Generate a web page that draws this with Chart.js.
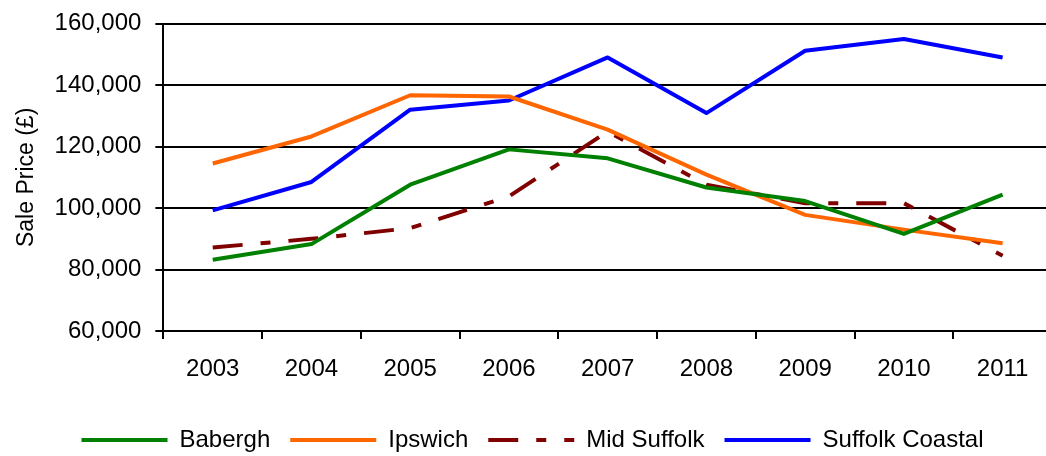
<!DOCTYPE html>
<html>
<head>
<meta charset="utf-8">
<script src="https://cdn.jsdelivr.net/npm/chart.js@4/dist/chart.umd.min.js"></script>
<style>
  body { margin: 0; background: #fff; overflow: hidden; }
</style>
</head>
<body>
<!-- plot runs a few px past the right edge, like the original export -->
<canvas id="priceChart" width="1052" height="456"></canvas>
<script>
const years = ['2003', '2004', '2005', '2006', '2007', '2008', '2009', '2010', '2011'];
const babergh = [83200, 88300, 107600, 119100, 116200, 106700, 102300, 91600, 104400];
const ipswich = [114500, 123300, 136700, 136300, 125500, 110900, 97800, 93000, 88600];
const midSuffolk = [87200, 90000, 93500, 103800, 124900, 107600, 101600, 101600, 84500];
const suffolkCoastal = [99250, 108500, 132000, 135000, 149000, 130900, 151150, 155000, 148950];
const yTicks = [60000, 80000, 100000, 120000, 140000, 160000];

const font = 'Arial, "Liberation Sans", sans-serif';

function line(label, data, color, dash) {
  return {
    label: label,
    data: data,
    borderColor: color,
    backgroundColor: color,
    borderWidth: 4,
    borderDash: dash || [],
    borderCapStyle: 'butt',
    borderJoinStyle: 'round',
    pointRadius: 0,
    tension: 0,
    fill: false
  };
}

const ctx = document.getElementById('priceChart').getContext('2d');
new Chart(ctx, {
  type: 'line',
  data: {
    labels: years,
    datasets: [
      line('Babergh', babergh, '#008000'),
      line('Ipswich', ipswich, '#FF6600'),
      line('Mid Suffolk', midSuffolk, '#800000', [30, 18, 10, 18]),
      line('Suffolk Coastal', suffolkCoastal, '#0000FF')
    ]
  },
  options: {
    responsive: false,
    animation: false,
    layout: { padding: { left: 13, right: 0, top: -1, bottom: -6 } },
    plugins: {
      tooltip: { enabled: false },
      legend: {
        position: 'bottom',
        labels: {
          usePointStyle: true,
          pointStyle: 'line',
          pointStyleWidth: 86,
          boxHeight: 4,
          padding: 20,
          color: '#000',
          font: { family: font, size: 24 },
          // point style hides the dataset dash, so copy it back in
          generateLabels: function (chart) {
            const items = Chart.defaults.plugins.legend.labels.generateLabels(chart);
            items.forEach(function (item) {
              const ds = chart.data.datasets[item.datasetIndex];
              item.lineDash = ds.borderDash;
              item.lineWidth = ds.borderWidth;
              item.strokeStyle = ds.borderColor;
            });
            return items;
          }
        }
      }
    },
    scales: {
      x: {
        offset: true,
        afterFit: function (scale) {
          scale.height += 8;
        },
        grid: {
          offset: true,
          drawOnChartArea: false,
          drawTicks: true,
          tickLength: 8,
          color: '#000',
          lineWidth: 2
        },
        border: { display: true, color: '#000', width: 2 },
        ticks: {
          color: '#000',
          padding: 8,
          maxRotation: 0,
          font: { family: font, size: 24, lineHeight: 1.87 }
        }
      },
      y: {
        min: 60000,
        max: 160000,
        afterBuildTicks: function (axis) {
          axis.ticks = yTicks.map(function (v) { return { value: v }; });
        },
        grid: {
          color: '#000',
          lineWidth: 2,
          tickLength: 8
        },
        border: { display: true, color: '#000', width: 2 },
        ticks: {
          color: '#000',
          padding: 14,
          font: { family: font, size: 24, lineHeight: 0.8 },
          callback: function (v) { return v.toLocaleString('en-GB'); }
        },
        title: {
          display: true,
          text: 'Sale Price (£)',
          color: '#000',
          padding: { top: 0, bottom: 0 },
          font: { family: font, size: 23 }
        }
      }
    }
  }
});
</script>
</body>
</html>
